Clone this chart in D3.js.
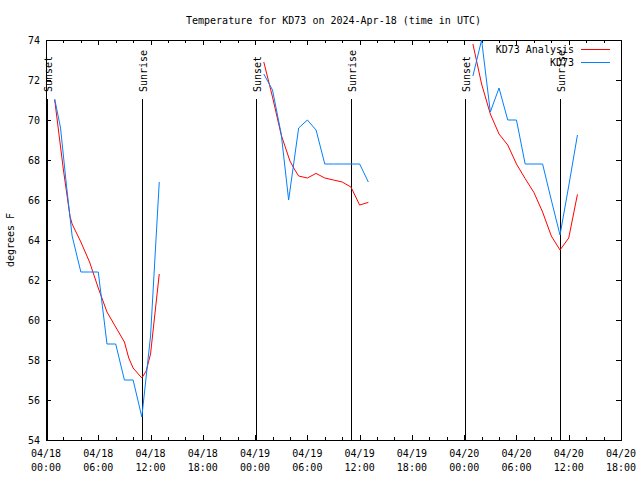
<!DOCTYPE html>
<html>
<head>
<meta charset="utf-8">
<script src="https://cdn.jsdelivr.net/npm/d3@7"></script>
<style>
  html, body { margin: 0; padding: 0; background: #fff; }
  svg { display: block; }
  text { font-family: "DejaVu Sans Mono", monospace; font-size: 10px; fill: #000; }
</style>
</head>
<body>
<svg id="chart" width="640" height="480"></svg>
<script>
// ---------------- DATA (hours after 2024-04-18 00:00 UTC) ----------------
const titleText = "Temperature for KD73 on 2024-Apr-18 (time in UTC)";
const yLabelText = "degrees F";
const seriesNames = ["KD73 Analysis", "KD73"];

const analysisHours = [1, 2, 2.75, 3, 4, 5, 6, 7, 8, 9, 9.5, 10, 11, 11.5, 12, 13,
  25, 26, 27, 28, 28.5, 29, 30, 31, 32, 33, 34, 35, 36, 37,
  49, 50, 51, 52, 53, 54, 55, 56, 57, 58, 59, 60, 61];
const analysisTemps = [71.0, 67.5, 65.2, 64.8, 63.9, 62.9, 61.6, 60.4, 59.65, 58.9, 58.1, 57.6, 57.1, 57.45, 58.3, 62.3,
  72.9, 71.15, 69.25, 67.95, 67.55, 67.2, 67.1, 67.33, 67.1, 67.0, 66.9, 66.65, 65.75, 65.88,
  73.8, 71.8, 70.3, 69.3, 68.75, 67.8, 67.07, 66.38, 65.4, 64.2, 63.5, 64.1, 66.28];
const analysisSegment = [1,1,1,1,1,1,1,1,1,1,1,1,1,1,1,1,
  2,2,2,2,2,2,2,2,2,2,2,2,2,2,
  3,3,3,3,3,3,3,3,3,3,3,3,3];

const obsHours = [1, 1.67, 2.33, 3, 3.5, 4, 5, 6, 7, 8, 9, 10, 11, 12, 13,
  25, 26, 27, 27.85, 29, 30, 31, 32, 33, 34, 35, 36, 37,
  49, 50, 51, 52, 53, 54, 55, 56, 57, 58, 59, 60, 61];
const obsTemps = [71.05, 69.6, 66.8, 64.2, 63.3, 62.4, 62.4, 62.4, 58.8, 58.8, 57.0, 57.0, 55.15, 59.2, 66.9,
  72.3, 71.5, 69.3, 66.0, 69.6, 70.0, 69.5, 67.8, 67.8, 67.8, 67.8, 67.8, 66.9,
  72.2, 74.0, 70.4, 71.6, 70.0, 70.0, 67.8, 67.8, 67.8, 66.0, 64.25, 66.7, 69.25];
const obsSegment = [1,1,1,1,1,1,1,1,1,1,1,1,1,1,1,
  2,2,2,2,2,2,2,2,2,2,2,2,2,
  3,3,3,3,3,3,3,3,3,3,3,3,3];

const sunEventHours = [0.12, 11.05, 24.14, 35.04, 48.13, 59.03];
const sunEventNames = ["Sunset", "Sunrise", "Sunset", "Sunrise", "Sunset", "Sunrise"];

const yTickValues = [54, 56, 58, 60, 62, 64, 66, 68, 70, 72, 74];
const yDomain = [54, 74];
const xDomainHours = [0, 66];

// ---------------- CHART ----------------
const base = Date.UTC(2024, 3, 18, 0, 0, 0);
const toDate = h => new Date(base + h * 3600 * 1000);

const margin = { left: 46, right: 621, top: 40, bottom: 440 };
const svg = d3.select("#chart");

const x = d3.scaleUtc().domain(xDomainHours.map(toDate)).range([margin.left, margin.right]);
const y = d3.scaleLinear().domain(yDomain).range([margin.bottom, margin.top]);

const colors = ["#ff0000", "#0080ff"];

svg.append("defs").append("clipPath").attr("id", "plotclip")
  .append("rect").attr("x", margin.left).attr("y", margin.top)
  .attr("width", margin.right - margin.left).attr("height", margin.bottom - margin.top);

// Title
svg.append("text").attr("x", (margin.left + margin.right) / 2).attr("y", 24)
  .attr("text-anchor", "middle").text(titleText);

// Y label
svg.append("text").attr("transform", `translate(14, ${(margin.top + margin.bottom) / 2}) rotate(-90)`)
  .attr("text-anchor", "middle").text(yLabelText);

// Frame
svg.append("rect").attr("x", margin.left).attr("y", margin.top)
  .attr("width", margin.right - margin.left).attr("height", margin.bottom - margin.top)
  .attr("fill", "none").attr("stroke", "#000").attr("stroke-width", 1)
  .attr("shape-rendering", "crispEdges");

// Y ticks (left and right, inward)
const gyL = svg.append("g").attr("transform", `translate(${margin.left},0)`)
  .call(d3.axisRight(y).tickValues(yTickValues).tickSize(5).tickFormat(""));
const gyR = svg.append("g").attr("transform", `translate(${margin.right},0)`)
  .call(d3.axisLeft(y).tickValues(yTickValues).tickSize(5).tickFormat(""));
[gyL, gyR].forEach(g => { g.select(".domain").remove(); g.selectAll("line").attr("shape-rendering", "crispEdges"); });

// Y tick labels
svg.append("g").selectAll("text").data(yTickValues).join("text")
  .attr("x", 40).attr("y", d => y(d)).attr("dy", "0.35em")
  .attr("text-anchor", "end").text(d => d);

// X ticks major (6h) and minor (2h), bottom and top, inward
const majorTicks = d3.utcHour.every(6).range(toDate(0), toDate(66.01));
const minorTicks = d3.utcHour.every(2).range(toDate(0), toDate(66.01));
const axes = [
  d3.axisTop(x).tickValues(majorTicks).tickSize(5).tickFormat(""), margin.bottom,
];
const gxB = svg.append("g").attr("transform", `translate(0,${margin.bottom})`)
  .call(d3.axisTop(x).tickValues(majorTicks).tickSize(5).tickFormat(""));
const gxBm = svg.append("g").attr("transform", `translate(0,${margin.bottom})`)
  .call(d3.axisTop(x).tickValues(minorTicks).tickSize(3).tickFormat(""));
const gxT = svg.append("g").attr("transform", `translate(0,${margin.top})`)
  .call(d3.axisBottom(x).tickValues(majorTicks).tickSize(5).tickFormat(""));
const gxTm = svg.append("g").attr("transform", `translate(0,${margin.top})`)
  .call(d3.axisBottom(x).tickValues(minorTicks).tickSize(3).tickFormat(""));
[gxB, gxBm, gxT, gxTm].forEach(g => { g.select(".domain").remove(); g.selectAll("line").attr("shape-rendering", "crispEdges"); });

// X tick labels (two lines)
const fmtDay = d3.utcFormat("%m/%d");
const fmtTime = d3.utcFormat("%H:%M");
const xl = svg.append("g").selectAll("text").data(majorTicks).join("text")
  .attr("x", d => x(d)).attr("text-anchor", "middle");
xl.append("tspan").attr("x", d => x(d)).attr("y", 457).text(d => fmtDay(d));
xl.append("tspan").attr("x", d => x(d)).attr("y", 471).text(d => fmtTime(d));

// Sunrise / sunset markers
const sun = sunEventHours.map((h, i) => ({ t: toDate(h), name: sunEventNames[i] }));
svg.append("g").selectAll("line").data(sun).join("line")
  .attr("x1", d => x(d.t)).attr("x2", d => x(d.t))
  .attr("y1", 99).attr("y2", margin.bottom)
  .attr("stroke", "#000").attr("stroke-width", 1).attr("shape-rendering", "crispEdges");
svg.append("g").selectAll("text").data(sun).join("text")
  .attr("transform", d => `translate(${x(d.t) + 4.5},92) rotate(-90)`)
  .attr("text-anchor", "start").text(d => d.name);

// Series
function buildSeries(hours, temps, segs) {
  const groups = d3.groups(hours.map((h, i) => ({ t: toDate(h), v: temps[i], s: segs[i] })), d => d.s);
  return groups.map(g => g[1]);
}
const line = d3.line().x(d => x(d.t)).y(d => y(d.v));
const plot = svg.append("g").attr("clip-path", "url(#plotclip)");

const obsSeries = buildSeries(obsHours, obsTemps, obsSegment);
const anaSeries = buildSeries(analysisHours, analysisTemps, analysisSegment);

plot.selectAll("path.ana").data(anaSeries).join("path").attr("class", "ana")
  .attr("d", line).attr("fill", "none").attr("stroke", colors[0]).attr("stroke-width", 1);
plot.selectAll("path.obs").data(obsSeries).join("path").attr("class", "obs")
  .attr("d", line).attr("fill", "none").attr("stroke", colors[1]).attr("stroke-width", 1);

// Legend
const legY = [49.5, 62.5];
seriesNames.forEach((n, i) => {
  svg.append("text").attr("x", 574).attr("y", legY[i]).attr("dy", "0.35em")
    .attr("text-anchor", "end").text(n);
  svg.append("line").attr("x1", 581).attr("x2", 610).attr("y1", legY[i]).attr("y2", legY[i])
    .attr("stroke", colors[i]).attr("stroke-width", 1).attr("shape-rendering", "crispEdges");
});
</script>
</body>
</html>
